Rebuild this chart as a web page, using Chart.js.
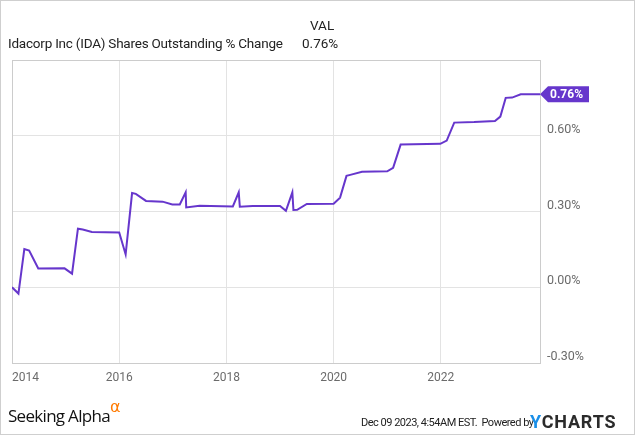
<!DOCTYPE html>
<html>
<head>
<meta charset="utf-8">
<script src="https://cdn.jsdelivr.net/npm/chart.js@4/dist/chart.umd.min.js"></script>
<style>
  html, body { margin: 0; padding: 0; background: #fff; }
  #wrap { position: relative; width: 635px; height: 435px; box-sizing: border-box; border: 1px solid #cfcfcf; overflow: hidden; font-family: Roboto, sans-serif; }
  #chart { position: absolute; left: -1px; top: -1px; }
  .txt { position: absolute; white-space: nowrap; line-height: 16px; color: #222; }
</style>
</head>
<body>
<div id="wrap">
  <canvas id="chart" width="635" height="435"></canvas>
  <div class="txt" style="left:309px; top:16px; font-size:13.5px;">VAL</div>
  <div class="txt" style="left:7px; top:34px; font-size:13.5px; letter-spacing:-0.22px;">Idacorp Inc (IDA) Shares Outstanding % Change</div>
  <div class="txt" style="left:301px; top:34px; font-size:13.5px;">0.76%</div>
  <div class="txt" style="left:7px; top:404px; font-size:17px; line-height:22px; font-family:'Open Sans', sans-serif; letter-spacing:-0.7px; color:#111;">Seeking Alpha</div>
  <div class="txt" style="left:109px; top:397px; font-size:16px; line-height:18px; color:#ff7a00; font-family:'DejaVu Sans', sans-serif;">&alpha;</div>
  <div class="txt" style="left:360px; top:415px; font-size:11px; line-height:14px; letter-spacing:-0.5px;">Dec 09 2023, 4:54AM EST.&nbsp; Powered by</div>
  <div class="txt" style="left:529px; top:411px; font-size:18px; line-height:20px; font-weight:bold; letter-spacing:0.8px; color:#2b2b2b;"><span style="color:#1a8fe8;">Y</span>CHARTS</div>
</div>
<script>
// decimal years on the x axis, % change on the y axis
const dates = [2014.00, 2014.12, 2014.23, 2014.32, 2014.49, 2014.98, 2015.12, 2015.23, 2015.32, 2015.49,
  2016.00, 2016.12, 2016.24, 2016.31, 2016.50, 2016.81, 2016.99, 2017.13, 2017.24, 2017.25,
  2017.50, 2018.12, 2018.23, 2018.25, 2018.49, 2019.00, 2019.11, 2019.23, 2019.25, 2019.32,
  2019.50, 2020.00, 2020.12, 2020.24, 2020.31, 2020.53, 2021.00, 2021.11, 2021.25, 2021.99,
  2022.11, 2022.25, 2022.62, 2023.01, 2023.11, 2023.21, 2023.33, 2023.49, 2023.85];
const sharesChange = [0.000, -0.025, 0.151, 0.145, 0.074, 0.075, 0.054, 0.232, 0.229, 0.219,
  0.217, 0.130, 0.373, 0.370, 0.342, 0.339, 0.328, 0.328, 0.376, 0.316,
  0.323, 0.320, 0.376, 0.319, 0.322, 0.322, 0.303, 0.376, 0.306, 0.307,
  0.330, 0.331, 0.355, 0.441, 0.445, 0.457, 0.459, 0.473, 0.565, 0.568,
  0.581, 0.652, 0.654, 0.658, 0.676, 0.750, 0.751, 0.764, 0.764];
const yearTicks = [2014, 2016, 2018, 2020, 2022];
const lineColor = '#6636cc';

const points = dates.map((d, i) => ({ x: d, y: sharesChange[i] }));

// grey box round the plot area
const framePlugin = {
  id: 'frame',
  beforeDatasetsDraw(chart) {
    const a = chart.chartArea;
    const ctx = chart.ctx;
    ctx.save();
    ctx.strokeStyle = '#cccccc';
    ctx.lineWidth = 1;
    ctx.strokeRect(Math.round(a.left) + 0.5, Math.round(a.top) + 0.5, Math.round(a.right - a.left), Math.round(a.bottom - a.top));
    ctx.restore();
  }
};

// last value flag on the right axis
const flagPlugin = {
  id: 'flag',
  afterDraw(chart) {
    const last = sharesChange[sharesChange.length - 1];
    const y = chart.scales.y.getPixelForValue(last);
    const x = chart.chartArea.right;
    const ctx = chart.ctx;
    ctx.save();
    ctx.fillStyle = lineColor;
    ctx.beginPath();
    ctx.moveTo(x, y);
    ctx.lineTo(x + 8, y - 8);
    ctx.lineTo(x + 49, y - 8);
    ctx.lineTo(x + 49, y + 8);
    ctx.lineTo(x + 8, y + 8);
    ctx.closePath();
    ctx.fill();
    ctx.fillStyle = '#ffffff';
    ctx.font = 'bold 12px Roboto';
    ctx.textBaseline = 'middle';
    ctx.fillText(last.toFixed(2) + '%', x + 10, y + 1);
    ctx.restore();
  }
};

const lineConfig = {
  type: 'line',
  data: {
    datasets: [{
      label: 'Shares Outstanding % Change',
      data: points,
      borderColor: lineColor,
      borderWidth: 2,
      pointRadius: 0,
      tension: 0,
      fill: false
    }]
  },
  options: {
    responsive: false,
    animation: false,
    layout: { padding: { top: 60, left: 12, right: 0, bottom: 0 } },
    plugins: {
      legend: { display: false },
      tooltip: { enabled: false }
    },
    scales: {
      x: {
        type: 'linear',
        min: 2014,
        max: dates[dates.length - 1],
        afterFit(scale) { scale.height = 72; },
        afterBuildTicks(scale) {
          scale.ticks = yearTicks.map(v => ({ value: v })).concat([{ value: dates[dates.length - 1] }]);
        },
        border: { display: false },
        grid: { color: '#e3e3e3', drawTicks: false },
        ticks: {
          padding: 8,
          align: 'inner',
          maxRotation: 0,
          autoSkip: false,
          color: '#6b6b6b',
          font: { family: 'Roboto', size: 12 },
          callback: v => yearTicks.includes(v) ? String(v) : ''
        }
      },
      y: {
        position: 'right',
        min: -0.3,
        max: 0.9,
        afterFit(scale) { scale.width = 95; },
        border: { display: false },
        grid: { color: '#e3e3e3', drawTicks: false },
        ticks: {
          stepSize: 0.3,
          padding: 7,
          labelOffset: -6,
          color: '#6b6b6b',
          font: { family: 'Roboto', size: 12.5 },
          callback: v => Math.abs(v - 0.9) < 1e-6 ? '' : v.toFixed(2) + '%'
        }
      }
    }
  },
  plugins: [framePlugin, flagPlugin]
};

const myLineChart = new Chart(document.getElementById('chart'), lineConfig);
</script>
</body>
</html>
